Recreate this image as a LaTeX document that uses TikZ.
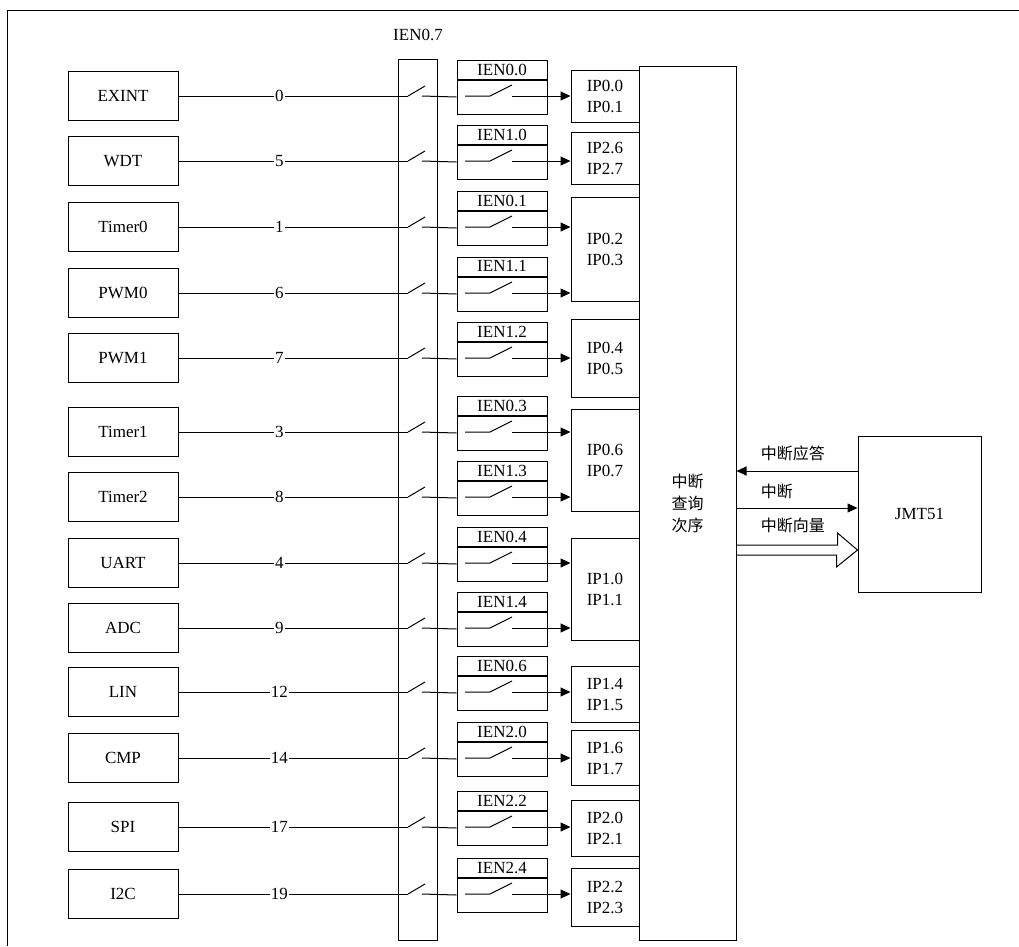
\documentclass[tikz,border=0pt]{standalone}
\usepackage{fontspec}
\setmainfont{Liberation Serif}
\newfontfamily\zhfont{Noto Sans CJK SC}
\usetikzlibrary{arrows.meta}

\begin{document}
\begin{tikzpicture}[x=1pt,y=-1pt,line width=1pt,font=\fontsize{17}{21}\selectfont,
   srcbox/.style={draw,minimum width=110pt,minimum height=49pt},
   ipbox/.style={draw,minimum width=68pt,align=center,inner sep=0pt},
   tip/.style={-{Triangle[length=10pt,width=9pt]}}]
   \useasboundingbox (0,0) rectangle (1019,946);
   \draw (7,946)--(7,10)--(1019,10);
   % priority boxes
   \node[ipbox,minimum height=52pt] (ipa) at (605,96) {IP0.0\\IP0.1};
   \node[ipbox,minimum height=52pt] (ipb) at (605,158) {IP2.6\\IP2.7};
   \node[ipbox,minimum height=104pt] (ipc) at (605,249) {IP0.2\\IP0.3};
   \node[ipbox,minimum height=78pt] (ipd) at (605,358) {IP0.4\\IP0.5};
   \node[ipbox,minimum height=102pt] (ipe) at (605,460) {IP0.6\\IP0.7};
   \node[ipbox,minimum height=102pt] (ipf) at (605,589) {IP1.0\\IP1.1};
   \node[ipbox,minimum height=56pt] (ipg) at (605,694) {IP1.4\\IP1.5};
   \node[ipbox,minimum height=55pt] (iph) at (605,758) {IP1.6\\IP1.7};
   \node[ipbox,minimum height=56pt] (ipi) at (605,828) {IP2.0\\IP2.1};
   \node[ipbox,minimum height=58pt] (ipj) at (605,897) {IP2.2\\IP2.3};
   \node[draw,minimum width=97pt,minimum height=874pt,align=center,
         font=\zhfont\fontsize{16}{22}\selectfont] (query) at (687.5,503) {中断\\查询\\次序};
   \node[draw,minimum width=39pt,minimum height=881pt] (bar) at (417.5,499.5) {};
   \node (barlabel) at (418,35) {IEN0.7};
   % sources
   \foreach \src/\nr/\y/\ien/\ip in {EXINT/0/96/IEN0.0/a, WDT/5/161/IEN1.0/b,
         Timer0/1/227/IEN0.1/c, PWM0/6/293/IEN1.1/c, PWM1/7/358/IEN1.2/d,
         Timer1/3/432/IEN0.3/e, Timer2/8/497/IEN1.3/e, UART/4/563/IEN0.4/f,
         ADC/9/628/IEN1.4/f, LIN/12/692/IEN0.6/g, CMP/14/758/IEN2.0/h,
         SPI/17/827/IEN2.2/i, I2C/19/894/IEN2.4/j}{
      \node[srcbox] (s\nr) at (123,\y) {\src};
      \coordinate (in\nr) at (408,\y);
      \draw (s\nr)--(in\nr) node[pos=0.44,fill=white,inner sep=1pt] {\nr};
      \draw (in\nr)--++(17,-10);
      \node[draw,minimum width=90pt,minimum height=19pt,inner sep=0pt] (t\nr) at (502,\y-26.5) {\ien};
      \node[draw,minimum width=90pt,minimum height=34pt,anchor=north] (e\nr) at (t\nr.south) {};
      \draw (422,\y)--(e\nr.west);
      \draw (465,\y)--(490,\y)--++(22,-11);
      \coordinate (w\nr) at (512,\y);
      \draw[tip] (w\nr)--(w\nr -| ip\ip.west);
   }
   % core
   \node[draw,minimum width=123pt,minimum height=156pt] (cpu) at (919.5,514) {JMT51};
   \draw[tip] ([yshift=43pt]cpu.west)--([yshift=43pt]cpu.west -| query.east);
   \draw[tip] ([yshift=6pt]cpu.west -| query.east)--([yshift=6pt]cpu.west);
   \draw ([yshift=-42pt]query.east)--++(101,0)--++(0,-12)--([yshift=-36pt]cpu.west)
         --++(-21,17)--++(0,-12)--([yshift=-52pt]query.east);
   \node[anchor=west,font=\zhfont\fontsize{16}{20}\selectfont] (ack) at (757,453) {中断应答};
   \node[anchor=west,font=\zhfont\fontsize{16}{20}\selectfont] (irq) at (757,491) {中断};
   \node[anchor=west,font=\zhfont\fontsize{16}{20}\selectfont] (vec) at (757,525) {中断向量};
\end{tikzpicture}
\end{document}
